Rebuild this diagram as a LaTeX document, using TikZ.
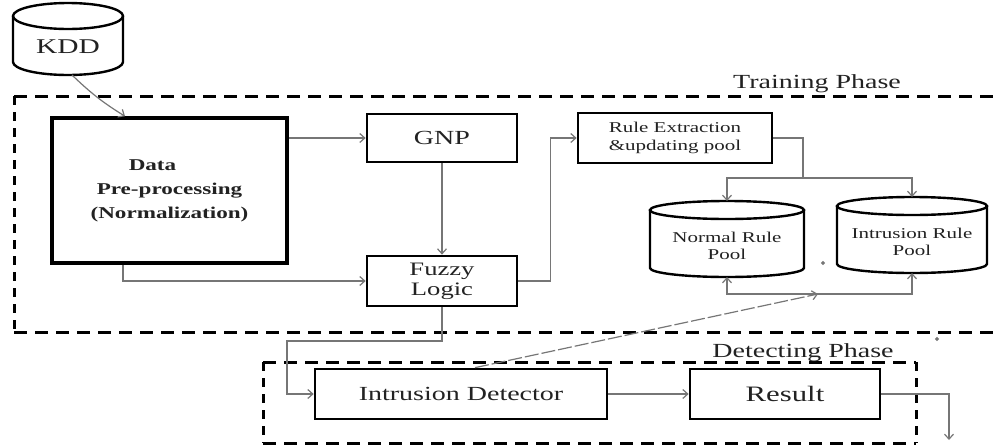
\documentclass[tikz,border=0pt]{standalone}
\usepackage{fontspec}
\setmainfont{Liberation Serif}[FakeStretch=1.4]
\usetikzlibrary{arrows.meta}
\definecolor{wire}{HTML}{767676}
\definecolor{ink}{HTML}{222222}

% database drum: centre x, top-ellipse y, bottom-ellipse y, x radius, y radius
\newcommand\poolshape[5]{%
  \draw[cyl] ({#1-#4},#2) -- ({#1-#4},#3)
    arc[start angle=180,end angle=360,x radius=#4pt,y radius=#5pt]
    -- ({#1+#4},#2);
  \draw[cyl] (#1,#2) ellipse[x radius=#4pt,y radius=#5pt];}

\begin{document}
\begin{tikzpicture}[x=1pt,y=-1pt,
  box/.style={draw=black, line width=2.7pt, rectangle, inner sep=0pt, text=ink, align=center},
  lab/.style={text=ink, inner sep=0pt, align=center},
  wire/.style={draw=wire, line width=1.2pt},
  arr/.style={wire, -{Straight Barb[length=5pt,width=9pt,line width=1.2pt]}},
  frameh/.style={draw=black, line width=3pt, dash pattern=on 13pt off 8pt},
  framev/.style={draw=black, line width=3pt, dash pattern=on 9pt off 7pt},
  cyl/.style={draw=black, line width=2.4pt},
  f21/.style={font=\fontsize{21}{24}\selectfont},
  f20/.style={font=\fontsize{20}{23}\selectfont},
  f19/.style={font=\fontsize{19}{20}\selectfont},
  f15/.style={font=\fontsize{15}{17.5}\selectfont},
]
\useasboundingbox (0,0) rectangle (997,445);

% phase frames
\draw[frameh] (14,96) -- (997,96);
\draw[frameh] (14,332) -- (997,332);
\draw[framev] (14,96) -- (14,332);
\draw[frameh] (263,362) -- (916,362);
\draw[frameh] (263,443) -- (916,443);
\draw[framev] (263,362) -- (263,443);
\draw[framev] (916,362) -- (916,443);
\node[lab, f20, anchor=base] (tp) at (817,88) {Training Phase};
\node[lab, f20, anchor=base] (dp) at (803,357) {Detecting Phase};

% data source
\poolshape{68}{16}{62}{55}{13}
\node[lab, f21] (kdd) at (68,47) {KDD};
\coordinate (kddb) at (72,75);

% training blocks
\node[box, line width=3.5pt, minimum width=235pt, minimum height=145pt,
      font=\bfseries\fontsize{16.5}{24}\selectfont] (data) at (169.5,190.5)
      {Data\hspace*{34pt}\\Pre-processing\\(Normalization)};
\node[box, f20, minimum width=150pt, minimum height=48pt] (gnp) at (442,138) {GNP};
\node[box, f19, minimum width=150pt, minimum height=50pt] (fuzzy) at (442,281) {Fuzzy\\Logic};
\node[box, f15, minimum width=194pt, minimum height=50pt] (rule) at (675,138)
      {Rule Extraction\\\&updating pool};

% rule pools
\poolshape{727}{210}{268}{77}{9}
\node[lab, f15] (npool) at (727,246) {Normal Rule\\Pool};
\coordinate (ntop) at (727,201);
\coordinate (nbot) at (727,277);
\poolshape{912}{206}{264}{75}{9}
\node[lab, f15] (ipool) at (912,242) {Intrusion Rule\\Pool};
\coordinate (itop) at (912,197);
\coordinate (ibot) at (912,273);
\fill[wire] (823,263) circle[radius=1.2pt];
\fill[wire] (937,339) circle[radius=1.2pt];

% detecting blocks
\node[box, f20, minimum width=292pt, minimum height=50pt] (det) at (461,394) {Intrusion Detector};
\node[box, font=\fontsize{22}{25}\selectfont, minimum width=190pt, minimum height=50pt] (res) at (785,394) {Result};

% connectors
\coordinate (split) at (803,178);
\coordinate (merge) at (818,294);
\coordinate (drop) at (287,341);
\coordinate (outend) at (949,440);

\draw[arr] (kddb) to[bend right=6] ([xshift=-44.5pt]data.north);
\draw[arr] (gnp.west -| data.east) -- (gnp.west);
\draw[arr] (gnp.south) -- (fuzzy.north);
\draw[arr] ([xshift=-46.5pt]data.south) |- (fuzzy.west);
\draw[arr] (fuzzy.east) -- ++(32,0) |- (rule.west);
\draw[wire] (rule.east) -| (split);
\draw[arr] (split) -| (ntop);
\draw[arr] (split) -| (itop);
\draw[arr] (merge) -| (nbot);
\draw[arr] (merge) -| (ibot);
\draw[arr, dash pattern=on 14pt off 3pt] ([xshift=14pt]det.north) -- (merge);
\draw[arr] (fuzzy.south) |- (drop) |- (det.west);
\draw[arr] (det.east) -- (res.west);
\draw[arr] (res.east) -| (outend);
\end{tikzpicture}
\end{document}
